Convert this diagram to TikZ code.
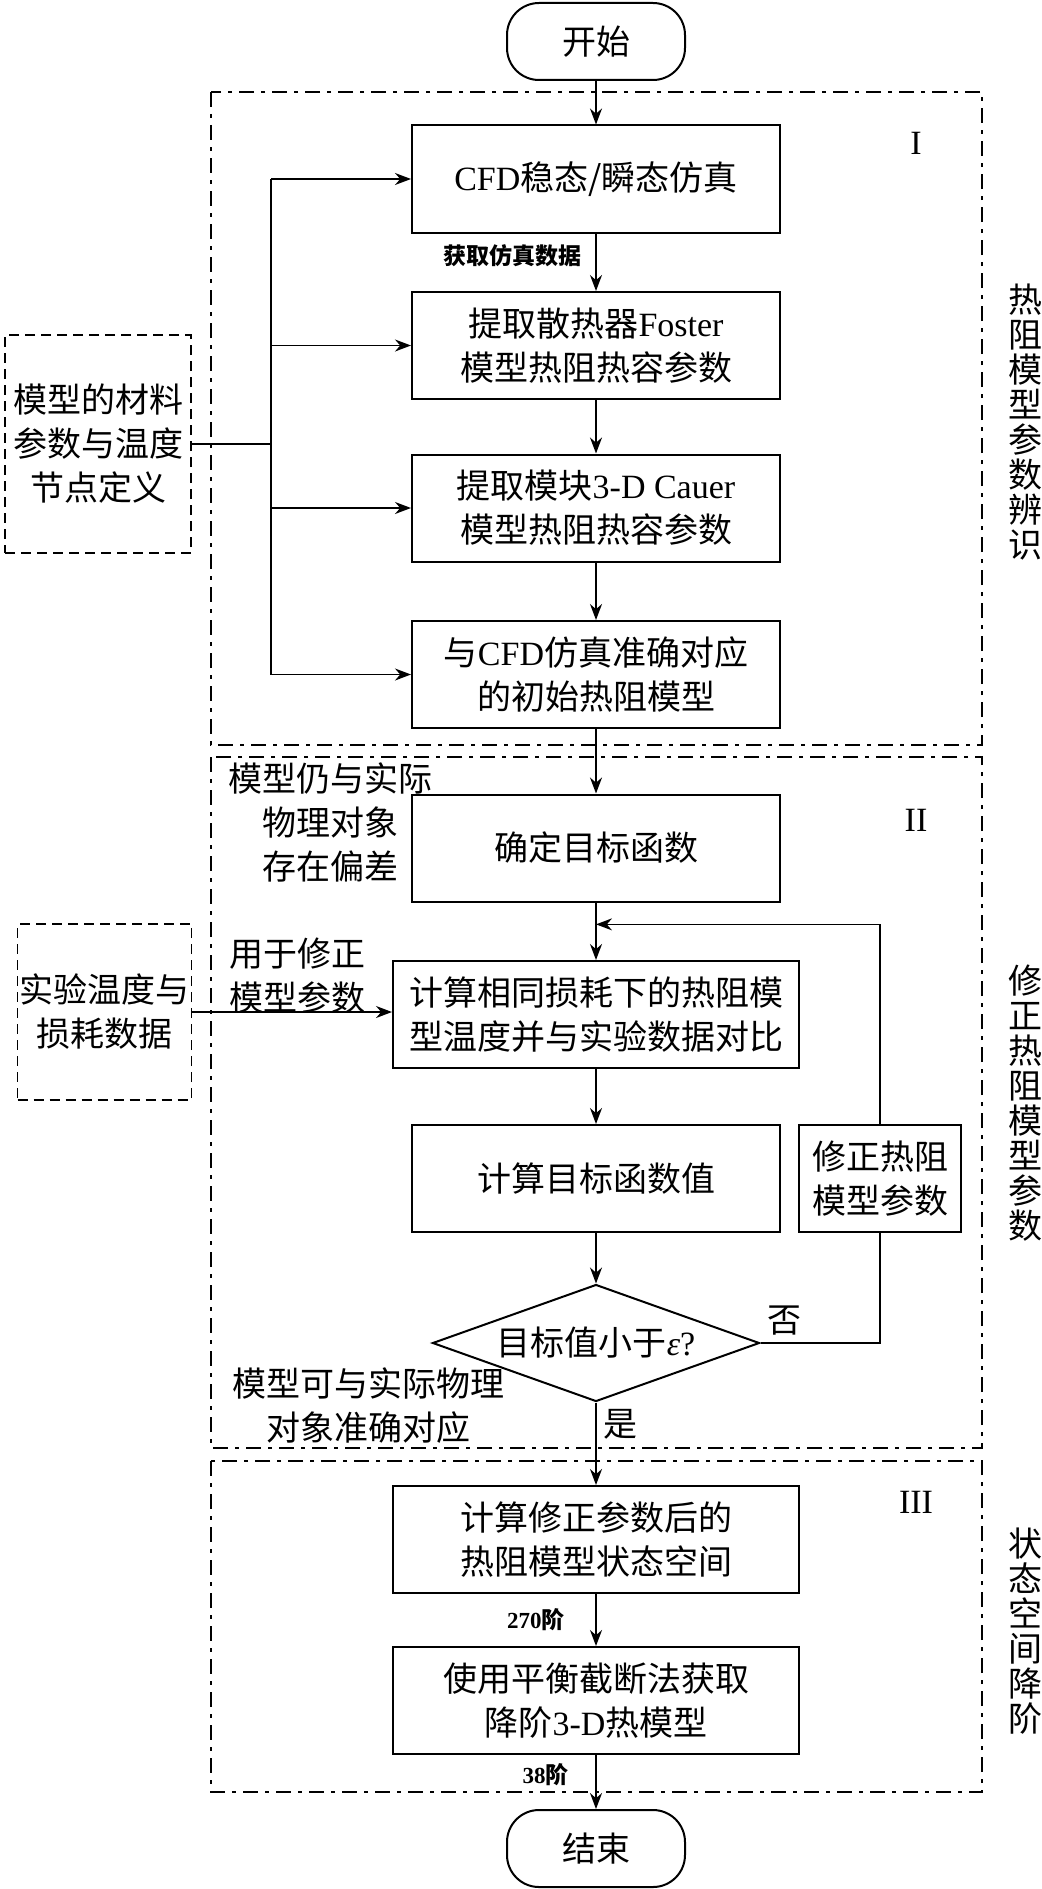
\documentclass[tikz,border=0pt]{standalone}
\usepackage{fontspec}
\setmainfont{Noto Sans CJK SC}
\newfontfamily\tnr{Liberation Serif}
\newcommand\latn[1]{{\tnr #1}}
\usetikzlibrary{arrows.meta,calc,positioning,shapes.geometric}

\begin{document}
\begin{tikzpicture}[x=0.5pt,y=-0.5pt,
    font=\fontsize{17pt}{22pt}\selectfont,
    >={Stealth[length=8pt,width=6pt]},
    flow/.style={draw,line width=1pt,align=center,minimum width=184pt,minimum height=53.5pt,inner sep=2pt},
    wide/.style={flow,minimum width=203pt},
    term/.style={draw,line width=1pt,rounded corners=16pt,minimum width=89pt,minimum height=38.5pt},
    inbox/.style={draw,line width=0.8pt,dash pattern=on 5pt off 3pt,align=center,inner sep=1pt},
    zone/.style={line width=1pt,dash pattern=on 7.5pt off 3.5pt on 2pt off 3.5pt},
    conn/.style={line width=0.8pt},
    note/.style={align=center},
    tagtext/.style={font=\fontsize{11.5pt}{14pt}\selectfont\bfseries},
    sidetext/.style={align=center,font=\fontsize{17pt}{17.5pt}\selectfont},
    roman/.style={font=\fontsize{17pt}{20pt}\selectfont\tnr}]
    \useasboundingbox (0,0) rectangle (1041,1889);
    % de tre trin som stiplede rammer
    \draw[zone] (211,92) rectangle (982,745);
    \draw[zone] (211,757) rectangle (982,1448);
    \draw[zone] (211,1461) rectangle (982,1792);
    \node[roman] (r1) at (916,143) {I};
    \node[roman] (r2) at (916,820) {II};
    \node[roman] (r3) at (916,1502) {III};
    \node[sidetext] (s1) at (1025,422) {热\\阻\\模\\型\\参\\数\\辨\\识};
    \node[sidetext] (s2) at (1025,1103) {修\\正\\热\\阻\\模\\型\\参\\数};
    \node[sidetext] (s3) at (1025,1631) {状\\态\\空\\间\\降\\阶};
    % hovedforloeb
    \node[term] (start) at (596,41.5) {开始};
    \node[flow] (sim) at (596,179) {\latn{CFD}稳态/瞬态仿真};
    \node[flow] (foster) at (596,345.5) {提取散热器\latn{Foster}\\模型热阻热容参数};
    \node[flow] (cauer) at (596,508) {提取模块\latn{3-D Cauer}\\模型热阻热容参数};
    \node[flow] (init) at (596,674.5) {与\latn{CFD}仿真准确对应\\的初始热阻模型};
    \node[flow] (obj) at (596,848) {确定目标函数};
    \node[wide] (comp) at (596,1014.5) {计算相同损耗下的热阻模\\型温度并与实验数据对比};
    \node[flow] (val) at (596,1178.5) {计算目标函数值};
    \node[flow,minimum width=81pt] (corr) at (880,1178.5) {修正热阻\\模型参数};
    \node[draw,line width=1pt,diamond,aspect=2.8,inner sep=0pt,minimum width=163.5pt,minimum height=58.5pt] (chk) at (596,1343) {目标值小于{\tnr\itshape ε}\latn{?}};
    \node[wide] (ss) at (596,1539.5) {计算修正参数后的\\热阻模型状态空间};
    \node[wide] (red) at (596,1700.5) {使用平衡截断法获取\\降阶\latn{3-D}热模型};
    \node[term] (stop) at (596,1848.5) {结束};
    % input udefra
    \node[inbox,minimum width=93pt,minimum height=109pt] (matin) at (98,444) {模型的材料\\参数与温度\\节点定义};
    \node[inbox,minimum width=86.5pt,minimum height=88pt] (expin) at (104.5,1012) {实验温度与\\损耗数据};
    \node[note] (n1) at (330,822) {模型仍与实际\\物理对象\\存在偏差};
    \node[note] (n2) at (297,976) {用于修正\\模型参数};
    \node[note] (n3) at (368,1406) {模型可与实际物理\\对象准确对应};
    % pile
    \draw[conn,->] (start) -- (sim);
    \draw[conn,->] (sim) -- node[tagtext,left=3.5pt,pos=0.38] {获取仿真数据} (foster);
    \draw[conn,->] (foster) -- (cauer);
    \draw[conn,->] (cauer) -- (init);
    \draw[conn,->] (init) -- (obj);
    \draw[conn,->] (obj) -- (comp);
    \draw[conn,->] (comp) -- (val);
    \draw[conn,->] (val) -- (chk);
    \draw[conn,->] (chk) -- node[right,pos=0.26] {是} (ss);
    \draw[conn,->] (ss) -- node[tagtext,left=12pt] {\latn{\bfseries 270}阶} (red);
    \draw[conn,->] (red) -- node[tagtext,left=10pt,pos=0.37] {\latn{\bfseries 38}阶} (stop);
    % samleskinne fra materialedata
    \coordinate (bus) at (271,444);
    \draw[conn] (matin.east) -- (bus);
    \draw[conn] (bus |- sim) -- (bus |- init);
    \foreach \n in {sim,foster,cauer,init} \draw[conn,->] (bus |- \n) -- (\n);
    \draw[conn,->] (expin) -- (expin -| comp.west);
    % tilbagekobling ved "nej"
    \coordinate (back) at ($(obj.south)!0.38!(comp.north)$);
    \draw[conn] (chk.east) node[above right] {否} -- (chk.east -| corr.south) -- (corr.south);
    \draw[conn,->] (corr.north) |- (back);
\end{tikzpicture}
\end{document}
